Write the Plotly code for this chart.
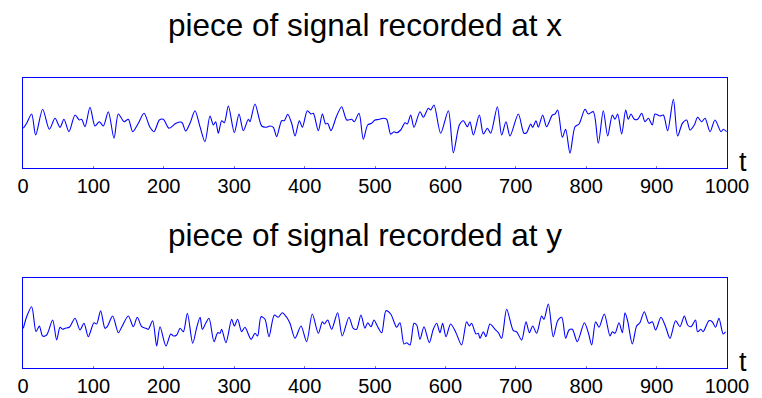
import plotly.graph_objects as go

# ---- data (time t, amplitude in arbitrary units) ----
t_x = [0.5, 5.2, 12.3, 18, 27.9, 37.4, 45.5, 52.6, 58.2, 65.3, 73.9, 80, 83.3, 88.1, 95.2, 102.3,
       108.4, 114.1, 121.2, 129.3, 135.4, 143.5, 149.6, 155.8, 163.8, 171.9, 180.4, 186.1, 193.7,
       199.3, 207.4, 217.3, 225.4, 231.1, 237.2, 244.3, 251.4, 258.5, 265.6, 270.4, 273.7, 277.5,
       282.2, 286, 291.7, 300.2, 306.8, 313, 320.1, 322.4, 329.5, 339, 344.7, 350.9, 355.6, 360.3,
       367.4, 371.2, 376, 381.6, 386.4, 392.5, 396.8, 403.9, 409.1, 412.4, 419.5, 425.2, 429.9,
       432.8, 437.5, 445.5, 452.7, 459.8, 466.9, 470.6, 477.3, 483.4, 489.6, 495.3, 500, 505,
       511.8, 516.6, 522.3, 527, 530.8, 536.5, 542.6, 545.9, 550.7, 555.4, 563.9, 568.7, 575.8,
       579.1, 583.8, 593.3, 604.2, 611.3, 619.8, 625.5, 631.2, 634.9, 639.7, 648.2, 653.9, 659.6,
       664.3, 673.8, 679.9, 686.1, 691.8, 703.6, 711.6, 715.4, 721.1, 724, 728.7, 732, 738.2,
       743.8, 751.9, 755.7, 759.5, 766.1, 770.8, 777, 784.1, 789.8, 798.3, 803, 810.1, 817.2,
       824.3, 830.5, 837.1, 840.9, 844.7, 850.4, 856.1, 859.8, 863.6, 868.4, 873.1, 878.8, 883.5,
       888.3, 893.9, 897.7, 904.8, 909.6, 915.7, 923.8, 929.9, 936.6, 942.7, 947.4, 953.6, 958.3,
       964, 968.8, 975.9, 982.9, 991.5, 994.8, 999.5]
v_x = [-5.3, -0.3, 9, -12, 13.7, -6.3, 4.7, -4.3, 3.7, -8.7, 8, 3, 3.7, -3.7, 15.7, -3,
       1.3, -3, 11.3, -15.3, 9, 1.3, 3.7, -8.7, -0.3, 9.7, -4.3, -8.7, 3,
       3.7, -5.3, -0.3, 0.7, -8, -0.3, 12.3, -3.7, -18.7, 7, -2, 1.3, -10.3,
       2.3, 0.3, 17, -9.7, 9, -7.7, 3.7, 1.3, 19, -3, -4.3, -3, -4.3, -13.7,
       2.3, 2.3, 8.7, -0.3, -13, 2.3, -4.3, 12.3, 9, 9.7, -7.7, 9, -1,
       -0.3, -7.7, 7, 16.3, 3, 3.7, 1.3, 9.7, -16.3, -2, -0.3, 3, 3.5,
       4.7, 3.7, -11.3, -8.7, -9.7, -7, 0.3, -1, 8, -4.3, 11.3, 5.7, 14.7,
       13, 18, -10.3, 12.3, -29.7, -2, 2.3, -3.7, 1.3, -12, 8, -11, -5.3,
       -10.3, 16.3, -12, 1.3, -13, 9, -10.3, -9.7, -1, -4.3, 2.3, -4.3, 8,
       -3.7, 8, 9, 13, -14.3, -6.3, -30.3, -3.7, -1, 13.7, 9, 11.3, -20.3,
       12.3, -13, 8, 3.7, 9, -11, 13, 3.7, 9, 3.7, 3.7, 9.7, 1.3,
       4.7, -2, 9, 7, 8, -7.7, 23.7, -13, -0.3, 3, -7, -2, 5.7,
       1.3, 4.7, -8.7, 3, -8.7, -6.3, -8.7]

t_y = [0.5, 5.2, 12.3, 18.5, 23.2, 27.9, 33.6, 42.1, 47.8, 52.6, 56.4, 59.7, 65.8, 73.9, 81, 86.6,
       92.7, 100.8, 104.6, 110.3, 116.4, 119.7, 127.3, 135.4, 140.1, 149.6, 156.7, 162.4, 168.6,
       174.7, 178, 184.2, 189.9, 194.6, 203.1, 209.8, 213.6, 218.3, 223.1, 227.8, 233.5, 241.1,
       246.8, 251.6, 254.7, 259.5, 264.2, 271.3, 276.5, 279.8, 282.2, 288.3, 296.4, 300.2, 304.9,
       310.6, 315.3, 323.9, 329.5, 333.3, 338.1, 343.7, 349.4, 357, 362.6, 368.3, 374.5, 379.2,
       386.4, 394.9, 402.9, 410.9, 419.5, 425.2, 428, 432.8, 438.4, 446.9, 453.5, 463, 469.1,
       473.9, 480, 485.7, 489.6, 494.3, 498.6, 503.3, 509.5, 515.6, 522.3, 530.8, 535.5, 541.2,
       545, 549.7, 555.4, 559.2, 563.9, 569.6, 577.1, 582.8, 587.6, 592.3, 596.1, 600.8, 607.4,
       615, 623, 630.1, 633.9, 637.2, 643.4, 646.7, 649.1, 653.9, 657.6, 663.3, 670.5, 675.2,
       679.9, 687, 696.5, 701.2, 708.3, 714.5, 719.3, 724, 729.6, 736.7, 740, 746.2, 753.2,
       759.5, 765.2, 770.8, 775.6, 780.3, 787.4, 797.4, 803, 807.8, 813.4, 818.2, 825.7, 833.8,
       837.1, 840.9, 846.6, 851.3, 855.1, 858.8, 865.5, 871.6, 876.3, 882.5, 889.1, 893.9, 898.6,
       906.2, 912.8, 919, 927, 933.2, 939.4, 944.1, 948.8, 955.3, 958.1, 962.9, 966.2, 974.3,
       979, 983.7, 988.5, 994.6, 997.9]
v_y = [-5.3, 6.3, 16.3, -8.7, -3, -13, -12, 3, -17, -4.3, -6.3, -5.3, -4.3, 4.7, -7, -0.3,
       -13.7, 0.3, -1, 12.3, -5.3, -3.7, 7, -9.7, -4.3, 7, -3.7, 5.7, -3.7,
       -5.3, -6.3, 2.3, -23, -3.7, -23, -11, -13, -12, -5.3, -8.7, 9.7, -20.3,
       -4.3, 5.7, -6.3, -0.3, 4.7, -18.7, -9.7, -10.3, -6.3, -19.7, 3.7, -3, 3.7,
       -8.7, -4.3, -16.3, -10.3, -13, 6.3, 3.7, -13.7, 8, 5.7, 10.3, 5.7, -0.3,
       -15.3, -3, -18.7, 9, -10.3, 1.3, -1, 3, -6.3, 10.3, -13, 5.7, -5.3,
       -6.3, 8, -5.3, 0.3, -3.7, 3, -3, -9.7, 12.3, 9, -4.3, 0.3, -21,
       -19.7, -22, -0.3, -2, -16.3, -3.7, -19.7, -6.3, -0.3, -9.7, -0.3, -13.7, -1,
       -9.7, -22, 1.3, -3, -0.3, -11, -10.3, -15.3, -8.7, -13.7, -1, -6.3, -9.7,
       -15.3, 13.7, -7.7, -8.7, -17, 1.3, -9.7, -3, -10.3, 7, 3.7, 19, -13.7,
       2.3, 5.7, -15.3, -7, -6.3, -18.7, 0.3, -9.7, -22, 1.3, -4.3, 9, -13,
       -8.7, -10.3, 0.3, -9.7, 10.3, 2.3, -21, -3, 0.3, 11.3, -0.3, 1.3, -7,
       5.7, -3.7, -15.3, 2.3, -3.7, 7, -2, -3.7, 3, -8.7, -6.3, -8.7, 2.3,
       1.3, -4.3, 4.7, -11, -8.7]

x_ticks = [0, 100, 200, 300, 400, 500, 600, 700, 800, 900, 1000]
titles = ["piece of signal recorded at x", "piece of signal recorded at y"]

W, H = 762, 398
BLUE = "#0000ff"
FONT = "Liberation Sans, Arial, sans-serif"

fig = go.Figure()
fig.add_trace(go.Scatter(x=t_x, y=v_x, mode="lines", xaxis="x", yaxis="y",
                         line=dict(color=BLUE, width=1.1, shape="spline", smoothing=0.8),
                         showlegend=False, hoverinfo="skip"))
fig.add_trace(go.Scatter(x=t_y, y=v_y, mode="lines", xaxis="x2", yaxis="y2",
                         line=dict(color=BLUE, width=1.1, shape="spline", smoothing=0.8),
                         showlegend=False, hoverinfo="skip"))

def px_x(p):
    return p / W

def px_y(p):
    return 1 - p / H

xd = [px_x(23), px_x(727)]
top_dom = [px_y(168), px_y(78)]
bot_dom = [px_y(368), px_y(278)]

xcommon = dict(range=[0, 1000], tickvals=x_ticks, ticktext=[str(v) for v in x_ticks],
               showline=True, mirror=True, linecolor=BLUE, linewidth=1,
               showgrid=False, zeroline=False, ticks="inside", ticklen=2,
               tickcolor="#8080c0", tickwidth=1, automargin=False,
               tickfont=dict(family=FONT, size=20, color="black"), domain=xd)
ycommon = dict(range=[-45, 45], showline=True, mirror=True, linecolor=BLUE, linewidth=1,
               showgrid=False, zeroline=False, ticks="", showticklabels=False,
               automargin=False)

fig.update_layout(
    width=W, height=H,
    margin=dict(l=0, r=0, t=0, b=0),
    paper_bgcolor="white", plot_bgcolor="white",
    xaxis=dict(**xcommon, anchor="y"),
    yaxis=dict(**ycommon, domain=top_dom, anchor="x"),
    xaxis2=dict(**xcommon, anchor="y2"),
    yaxis2=dict(**ycommon, domain=bot_dom, anchor="x2"),
)

for title, ty, tt in [(titles[0], 25, 162), (titles[1], 235, 362)]:
    fig.add_annotation(text=title, xref="paper", yref="paper", x=px_x(365), y=px_y(ty),
                       xanchor="center", yanchor="middle", showarrow=False,
                       font=dict(family=FONT, size=31.5, color="black"))
    fig.add_annotation(text="t", xref="paper", yref="paper", x=px_x(743), y=px_y(tt),
                       xanchor="center", yanchor="middle", showarrow=False,
                       font=dict(family=FONT, size=27, color="black"))

fig.write_html("out.html")
